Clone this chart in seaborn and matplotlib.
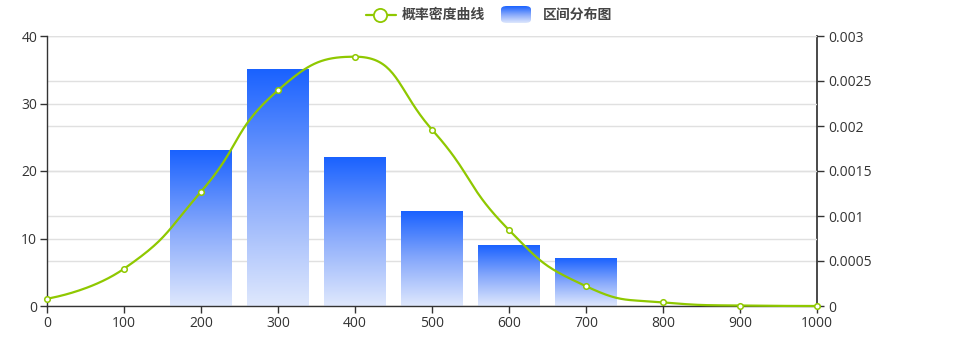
import numpy as np
import pandas as pd
import matplotlib
matplotlib.use('Agg')
import matplotlib.pyplot as plt
import seaborn as sns
from matplotlib.colors import LinearSegmentedColormap
from matplotlib.patches import FancyBboxPatch
from matplotlib.lines import Line2D

# ---- data ----
bin_centers = [200, 300, 400, 500, 600, 700]
bin_counts = [23, 35, 22, 14, 9, 7]
density_x = [0, 100, 200, 300, 400, 500, 600, 700, 800, 900, 1000]
density_y = [0.000081, 0.000414, 0.00127, 0.002397, 0.00277, 0.00196,
             0.000844, 0.00022, 0.00004, 0.000005, 0.0]
x_ticks = [0, 100, 200, 300, 400, 500, 600, 700, 800, 900, 1000]
left_ticks = [0, 10, 20, 30, 40]
right_ticks = [0, 0.0005, 0.001, 0.0015, 0.002, 0.0025, 0.003]
right_labels = ['0', '0.0005', '0.001', '0.0015', '0.002', '0.0025', '0.003']
legend_labels = ['概率密度曲线', '区间分布图']

LINE_C = '#8fc800'
TXT_C = '#333333'
GRID_C = '#e0e0e0'

sns.set_theme(style='white')
plt.rcParams['font.family'] = ['Open Sans', 'Noto Sans CJK SC', 'DejaVu Sans']

W, H = 960, 360
fig = plt.figure(figsize=(W / 100, H / 100), dpi=100)
rect = [47 / W, 1 - 306 / H, 770 / W, 270 / H]
ax2 = fig.add_axes(rect)          # right axis (below)
ax = fig.add_axes(rect)           # left axis (bars + line on top)
ax.patch.set_visible(False)

# right axis setup
ax2.set_xlim(0, 1000)
ax2.set_ylim(0, 0.003)
ax2.yaxis.tick_right()
ax2.set_yticks(right_ticks)
ax2.set_yticklabels(right_labels)
ax2.set_xticks([])
ax2.grid(axis='y', color=GRID_C, lw=1)
for s in ['left', 'top', 'bottom']:
    ax2.spines[s].set_visible(False)
ax2.spines['right'].set_color(TXT_C)
ax2.tick_params(axis='y', right=True, length=5, width=1, color=TXT_C,
                labelcolor=TXT_C, labelsize=10, pad=3)
ax2.set_ylabel('')

# bars
df = pd.DataFrame({'x': bin_centers, 'count': bin_counts})
sns.barplot(data=df, x='x', y='count', native_scale=True, width=0.8,
            color='#1a62ff', saturation=1, ax=ax, zorder=2)
ax.set_xlim(0, 1000)
ax.set_ylim(0, 40)

cmap = LinearSegmentedColormap.from_list('g', ['#dfe8fd', '#86a8fb', '#1a62ff'])
grad = np.linspace(0, 1, 256).reshape(-1, 1)
for p in list(ax.patches):
    x0 = p.get_x(); w = p.get_width(); h = p.get_height()
    ax.imshow(grad, extent=[x0, x0 + w, 0, h], origin='lower', aspect='auto',
              cmap=cmap, zorder=2, interpolation='bilinear')
    p.set_visible(False)
ax.set_xlim(0, 1000)
ax.set_ylim(0, 40)

# smooth density curve (echarts-style clamped bezier, in pixel space)
sx, sy = 770 / 1000, 270 / 0.003
P = np.column_stack([np.array(density_x) * sx, np.array(density_y) * sy])
n = len(P)
smooth = 0.5


def clamp(v, a, b):
    return np.minimum(np.maximum(v, np.minimum(a, b)), np.maximum(a, b))


segments = []
cp0 = P[0].copy()
for i in range(1, n):
    prev = P[i - 1]; pt = P[i]
    if i == n - 1:
        cp1 = pt.copy(); next_cp0 = pt.copy()
    else:
        nxt = P[i + 1]
        v = nxt - prev
        lp = np.linalg.norm(pt - prev); ln = np.linalg.norm(nxt - pt)
        r = ln / (ln + lp)
        cp1 = pt - v * smooth * (1 - r)
        next_cp0 = pt + v * smooth * r
        next_cp0 = clamp(next_cp0, nxt, pt)
        vv = next_cp0 - pt
        cp1 = pt - vv * lp / ln
        cp1 = clamp(cp1, prev, pt)
        vv = pt - cp1
        next_cp0 = pt + vv * ln / lp
    segments.append((prev, cp0, cp1, pt))
    cp0 = next_cp0

t = np.linspace(0, 1, 40)[:, None]
curve = []
for k, (a, b, c, d) in enumerate(segments):
    seg = (1 - t) ** 3 * a + 3 * (1 - t) ** 2 * t * b + 3 * (1 - t) * t ** 2 * c + t ** 3 * d
    curve.append(seg if k == 0 else seg[1:])
curve = np.vstack(curve)
ax.plot(curve[:, 0] / sx, curve[:, 1] / sy, color=LINE_C, lw=1.6,
        transform=ax2.transData, zorder=4, solid_capstyle='round', clip_on=False)
ax.scatter(density_x, density_y, s=16, facecolor='white', edgecolor=LINE_C,
           linewidth=1.1, transform=ax2.transData, zorder=5, clip_on=False)

# left axis
ax.set_yticks(left_ticks)
ax.set_xticks(x_ticks)
ax.set_xticklabels([str(v) for v in x_ticks])
ax.grid(axis='y', color=GRID_C, lw=1)
ax.set_axisbelow(True)
for s in ['right', 'top']:
    ax.spines[s].set_visible(False)
for s in ['left', 'bottom']:
    ax.spines[s].set_color(TXT_C)
    ax.spines[s].set_linewidth(1)
ax.tick_params(axis='both', length=5, width=1, color=TXT_C, labelcolor=TXT_C,
               labelsize=10, left=True, bottom=True, pad=2)
ax.set_xlabel('')
ax.set_ylabel('')

# legend (manual)
ly = 1 - 15 / H
fig.add_artist(Line2D([366 / W, 396 / W], [ly, ly], color=LINE_C, lw=1.6,
                      transform=fig.transFigure))
fig.add_artist(Line2D([380 / W], [ly], marker='o', markersize=9.5,
                      markerfacecolor='white', markeredgecolor=LINE_C,
                      markeredgewidth=1.3, transform=fig.transFigure))
fig.text(402 / W, ly, legend_labels[0], fontsize=10, color='#444444',
         fontweight='bold', va='center', ha='left',
         family=['Noto Sans CJK SC', 'DejaVu Sans'])
lax = fig.add_axes([501 / W, 1 - 23 / H, 30 / W, 17 / H])
lax.set_axis_off()
im = lax.imshow(grad, extent=[0, 1, 0, 1], origin='lower', aspect='auto',
                cmap=cmap, interpolation='bilinear')
box = FancyBboxPatch((0, 0), 1, 1, boxstyle='round,pad=0,rounding_size=0.2',
                     transform=lax.transAxes, facecolor='none', edgecolor='none')
lax.add_patch(box)
im.set_clip_path(box)
lax.set_xlim(0, 1); lax.set_ylim(0, 1)
fig.text(543 / W, ly, legend_labels[1], fontsize=10, color='#444444',
         fontweight='bold', va='center', ha='left',
         family=['Noto Sans CJK SC', 'DejaVu Sans'])

fig.savefig('out.png', dpi=100)
